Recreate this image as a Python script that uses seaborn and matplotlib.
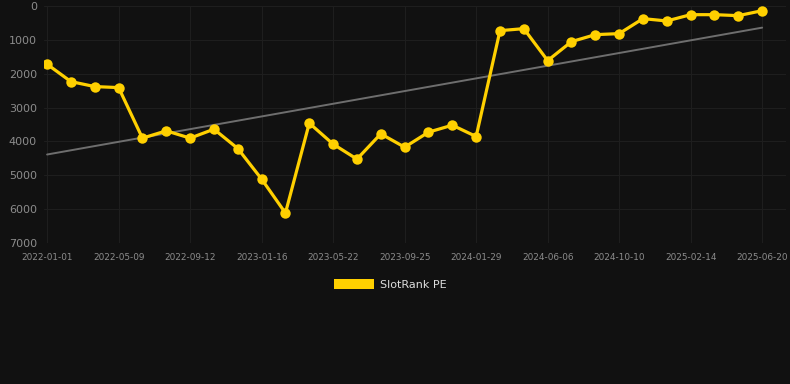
import numpy as np
import pandas as pd
import matplotlib
matplotlib.use("Agg")
import matplotlib.pyplot as plt
import seaborn as sns
from matplotlib.patches import Patch

# ---- data ----
tick_labels = ["2022-01-01", "2022-05-09", "2022-09-12", "2023-01-16", "2023-05-22",
               "2023-09-25", "2024-01-29", "2024-06-06", "2024-10-10", "2025-02-14",
               "2025-06-20"]
rank_values = [1720, 2233, 2380, 2410, 3903, 3687, 3903, 3638, 4209, 5113,
               6115, 3460, 4080, 4522, 3776, 4170, 3727, 3520, 3855, 728,
               669, 1613, 1052, 846, 816, 373, 442, 256, 256, 285, 138]
series_name = "SlotRank PE"

df = pd.DataFrame({"idx": np.arange(len(rank_values)), "rank": rank_values})

bg = "#111111"
gold = "#FFD000"
sns.set_theme(style="dark")
plt.rcParams["font.family"] = ["DejaVu Sans"]

fig = plt.figure(figsize=(7.9, 3.84), dpi=100, facecolor=bg)
ax = fig.add_axes([44 / 790, 1 - 243 / 384, (786 - 44) / 790, (243 - 6) / 384])
ax.set_facecolor(bg)

sns.regplot(data=df, x="idx", y="rank", scatter=False, ci=None, ax=ax,
            line_kws=dict(color="#6e6e6e", linewidth=1.4), truncate=True)
sns.lineplot(data=df, x="idx", y="rank", ax=ax, color=gold, linewidth=2.3,
             marker="o", markersize=7.5, markeredgewidth=0, zorder=5)

ax.set_xlim(-0.13, 31.0)
ax.set_ylim(7000, 0)
ax.set_yticks(np.arange(0, 7001, 1000))
ax.set_yticklabels([str(v) for v in range(0, 7001, 1000)])
ax.set_xticks(np.arange(0, len(rank_values), 3))
ax.set_xticklabels(tick_labels)
ax.set_xlabel("")
ax.set_ylabel("")

ax.grid(True, color="#1e1e1e", linewidth=0.8)
ax.tick_params(axis="y", length=0, pad=5, labelsize=8, labelcolor="#8c8c8c")
ax.tick_params(axis="x", length=0, pad=7.5, labelsize=6.4, labelcolor="#8c8c8c")
for s in ax.spines.values():
    s.set_visible(False)

handle = Patch(facecolor=gold, edgecolor="none")
fig.legend([handle], [series_name], loc="upper center",
           bbox_to_anchor=(0.494, 1 - 269 / 384), frameon=False,
           fontsize=8, labelcolor="#dddddd", handlelength=3.6, handleheight=1.0,
           handletextpad=0.55)

fig.savefig("out.png", dpi=100, facecolor=bg)
